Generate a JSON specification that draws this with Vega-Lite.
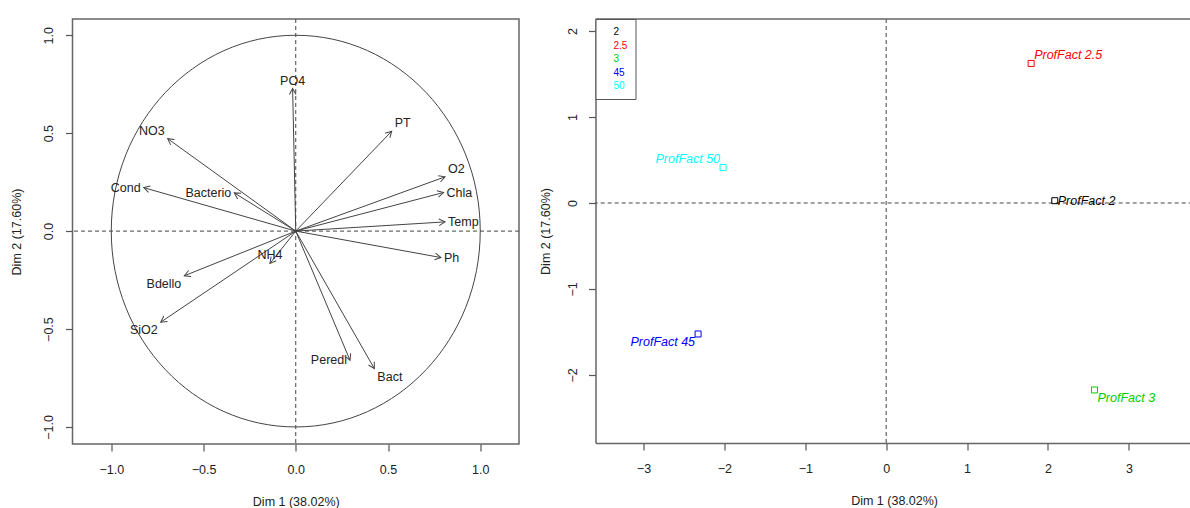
{
  "$schema": "https://vega.github.io/schema/vega-lite/v6.json",
  "padding": {"left": 8.5, "top": 17, "right": 0, "bottom": 0},
  "spacing": 18,
  "config": {
    "font": "Liberation Sans",
    "axis": {
      "grid": false,
      "tickColor": "#555",
      "tickWidth": 1.2,
      "tickSize": 7,
      "domainColor": "#666",
      "domainWidth": 1.5,
      "labelFont": "Liberation Sans",
      "labelFontSize": 12.5,
      "labelColor": "#222",
      "titleFont": "Liberation Sans",
      "titleFontSize": 12.5,
      "titleFontWeight": "normal",
      "titleColor": "#222"
    },
    "axisX": {"labelPadding": 12, "titlePadding": 20, "domain": false},
    "axisY": {"labelAngle": -90, "labelAlign": "center", "labelBaseline": "bottom", "labelPadding": 9, "domain": false},
    "view": {"stroke": "#666", "strokeWidth": 1.5}
  },
  "datasets": {
    "vars": [
      {"name": "PO4", "x": -0.017, "y": 0.728, "pos": "n"},
      {"name": "NO3", "x": -0.694, "y": 0.472, "pos": "nw"},
      {"name": "Cond", "x": -0.824, "y": 0.222, "pos": "w"},
      {"name": "Bacterio", "x": -0.333, "y": 0.195, "pos": "w"},
      {"name": "NH4", "x": -0.14, "y": -0.165, "pos": "n"},
      {"name": "Bdello", "x": -0.604, "y": -0.228, "pos": "sw"},
      {"name": "SiO2", "x": -0.732, "y": -0.465, "pos": "sw"},
      {"name": "PT", "x": 0.52, "y": 0.51, "pos": "ne"},
      {"name": "O2", "x": 0.809, "y": 0.277, "pos": "ne"},
      {"name": "Chla", "x": 0.801, "y": 0.197, "pos": "e"},
      {"name": "Temp", "x": 0.809, "y": 0.047, "pos": "e"},
      {"name": "Ph", "x": 0.787, "y": -0.135, "pos": "e"},
      {"name": "Peredi", "x": 0.294, "y": -0.659, "pos": "w"},
      {"name": "Bact", "x": 0.426, "y": -0.702, "pos": "se"}
    ],
    "inds": [
      {"name": "ProfFact 2", "grp": "2", "x": 2.084, "y": 0.027, "pos": "e"},
      {"name": "ProfFact 2.5", "grp": "2.5", "x": 1.792, "y": 1.623, "pos": "ne"},
      {"name": "ProfFact 3", "grp": "3", "x": 2.575, "y": -2.174, "pos": "se"},
      {"name": "ProfFact 45", "grp": "45", "x": -2.325, "y": -1.523, "pos": "sw"},
      {"name": "ProfFact 50", "grp": "50", "x": -2.016, "y": 0.414, "pos": "nw"}
    ],
    "origin": [{"cx": 0, "cy": 0}]
  },
  "hconcat": [
    {
      "width": 446.5,
      "height": 425,
      "encoding": {
        "x": {"type": "quantitative", "scale": {"domain": [-1.21, 1.21], "nice": false, "zero": false},
              "axis": {"title": "Dim 1 (38.02%)", "values": [-1, -0.5, 0, 0.5, 1], "format": ".1f"}},
        "y": {"type": "quantitative", "scale": {"domain": [-1.087, 1.083], "nice": false, "zero": false},
              "axis": {"title": "Dim 2 (17.60%)", "values": [-1, -0.5, 0, 0.5, 1], "format": ".1f", "labelPadding": 10.5, "titlePadding": 17.5, "minExtent": 32, "maxExtent": 32}}
      },
      "layer": [
        {
          "data": {"name": "origin"},
          "mark": {"type": "point", "shape": "M 0.942 0 C 0.942 0.5523 0.5203 1 0 1 C -0.5203 1 -0.942 0.5523 -0.942 0 C -0.942 -0.5523 -0.5203 -1 0 -1 C 0.5203 -1 0.942 -0.5523 0.942 0 Z", "size": 153428, "filled": false, "stroke": "#444", "strokeWidth": 1, "opacity": 1},
          "encoding": {"x": {"field": "cx", "type": "quantitative"}, "y": {"field": "cy", "type": "quantitative"}}
        },
        {
          "data": {"name": "origin"},
          "mark": {"type": "rule", "strokeDash": [4, 3], "color": "#444", "strokeWidth": 1},
          "encoding": {"x": {"field": "cx", "type": "quantitative"}}
        },
        {
          "data": {"name": "origin"},
          "mark": {"type": "rule", "strokeDash": [4, 3], "color": "#444", "strokeWidth": 1},
          "encoding": {"y": {"field": "cy", "type": "quantitative"}}
        },
        {
          "data": {"name": "vars"},
          "mark": {"type": "rule", "color": "#444", "strokeWidth": 1},
          "encoding": {"x": {"field": "x", "type": "quantitative"}, "y": {"field": "y", "type": "quantitative"}, "x2": {"datum": 0}, "y2": {"datum": 0}}
        },
        {
          "data": {"name": "vars"},
          "mark": {"type": "point", "shape": "M -1 -0.55 L 0 0 L -1 0.55", "size": 144, "filled": false, "stroke": "#444", "strokeWidth": 1, "opacity": 1,
                   "angle": {"expr": "atan2(-datum.y*195.85, datum.x*184.5)*180/PI"}},
          "encoding": {"x": {"field": "x", "type": "quantitative"}, "y": {"field": "y", "type": "quantitative"}}
        },
        {
          "data": {"name": "vars"},
          "mark": {"type": "text", "font": "Liberation Sans", "fontSize": 12.5, "color": "#222",
                   "align": {"expr": "indexof(datum.pos,'e')>=0 ? 'left' : (indexof(datum.pos,'w')>=0 ? 'right' : 'center')"},
                   "baseline": {"expr": "indexof(datum.pos,'n')==0 ? 'bottom' : (indexof(datum.pos,'s')==0 ? 'top' : 'middle')"},
                   "dx": {"expr": "indexof(datum.pos,'e')>=0 ? 3 : (indexof(datum.pos,'w')>=0 ? -3 : 0)"},
                   "dy": {"expr": "indexof(datum.pos,'n')==0 ? -1 : (indexof(datum.pos,'s')==0 ? 2 : 0)"}},
          "encoding": {"x": {"field": "x", "type": "quantitative"}, "y": {"field": "y", "type": "quantitative"}, "text": {"field": "name"}}
        }
      ]
    },
    {
      "width": 597.2,
      "height": 424,
      "view": {"stroke": null},
      "encoding": {
        "x": {"type": "quantitative", "scale": {"domain": [-3.593, 3.789], "nice": false, "zero": false},
              "axis": {"title": "Dim 1 (38.02%)", "values": [-3, -2, -1, 0, 1, 2, 3], "format": "d", "domain": true}},
        "y": {"type": "quantitative", "scale": {"domain": [-2.791, 2.14], "nice": false, "zero": false},
              "axis": {"title": "Dim 2 (17.60%)", "values": [-2, -1, 0, 1, 2], "format": "d", "domain": true, "titlePadding": 14.3, "minExtent": 29, "maxExtent": 29}}
      },
      "layer": [
        {
          "data": {"name": "origin"},
          "mark": {"type": "rule", "strokeDash": [4, 3], "color": "#444", "strokeWidth": 1},
          "encoding": {"x": {"field": "cx", "type": "quantitative"}}
        },
        {
          "data": {"name": "origin"},
          "mark": {"type": "rule", "strokeDash": [4, 3], "color": "#444", "strokeWidth": 1},
          "encoding": {"y": {"field": "cy", "type": "quantitative"}}
        },
        {
          "data": {"name": "origin"},
          "mark": {"type": "rule", "color": "#666", "strokeWidth": 1.5},
          "encoding": {"y": {"datum": 2.14}}
        },
        {
          "data": {"name": "inds"},
          "mark": {"type": "point", "shape": "square", "size": 36, "filled": false, "strokeWidth": 1, "opacity": 1},
          "encoding": {
            "x": {"field": "x", "type": "quantitative"},
            "y": {"field": "y", "type": "quantitative"},
            "color": {"field": "grp", "type": "nominal",
                      "scale": {"domain": ["2", "2.5", "3", "45", "50"], "range": ["#000000", "#FF0000", "#00CD00", "#0000FF", "#00FFFF"]},
                      "legend": {"orient": "top-left", "offset": 0, "title": null, "padding": 8, "strokeColor": "#555", "fillColor": "white",
                                 "symbolOpacity": 0, "symbolSize": 16, "symbolStrokeWidth": 0, "labelOffset": 0, "labelFontSize": 10,
                                 "labelFont": "Liberation Sans", "rowPadding": 3.5, "cornerRadius": 0,
                                 "labelColor": {"expr": "datum.value=='2.5' ? '#FF0000' : (datum.value=='3' ? '#00CD00' : (datum.value=='45' ? '#0000FF' : (datum.value=='50' ? '#00FFFF' : '#000000')))"}}}
          }
        },
        {
          "data": {"name": "inds"},
          "mark": {"type": "text", "font": "Liberation Sans", "fontSize": 12.5, "fontStyle": "italic",
                   "align": {"expr": "indexof(datum.pos,'e')>=0 ? 'left' : (indexof(datum.pos,'w')>=0 ? 'right' : 'center')"},
                   "baseline": {"expr": "indexof(datum.pos,'n')==0 ? 'bottom' : (indexof(datum.pos,'s')==0 ? 'top' : 'middle')"},
                   "dx": {"expr": "indexof(datum.pos,'e')>=0 ? 3 : (indexof(datum.pos,'w')>=0 ? -3 : 0)"},
                   "dy": {"expr": "indexof(datum.pos,'n')==0 ? -1 : (indexof(datum.pos,'s')==0 ? 2 : 0)"}},
          "encoding": {"x": {"field": "x", "type": "quantitative"}, "y": {"field": "y", "type": "quantitative"}, "text": {"field": "name"},
                       "color": {"field": "grp", "type": "nominal"}}
        }
      ]
    }
  ],
  "resolve": {"scale": {"color": "independent"}, "legend": {"color": "independent"}}
}
